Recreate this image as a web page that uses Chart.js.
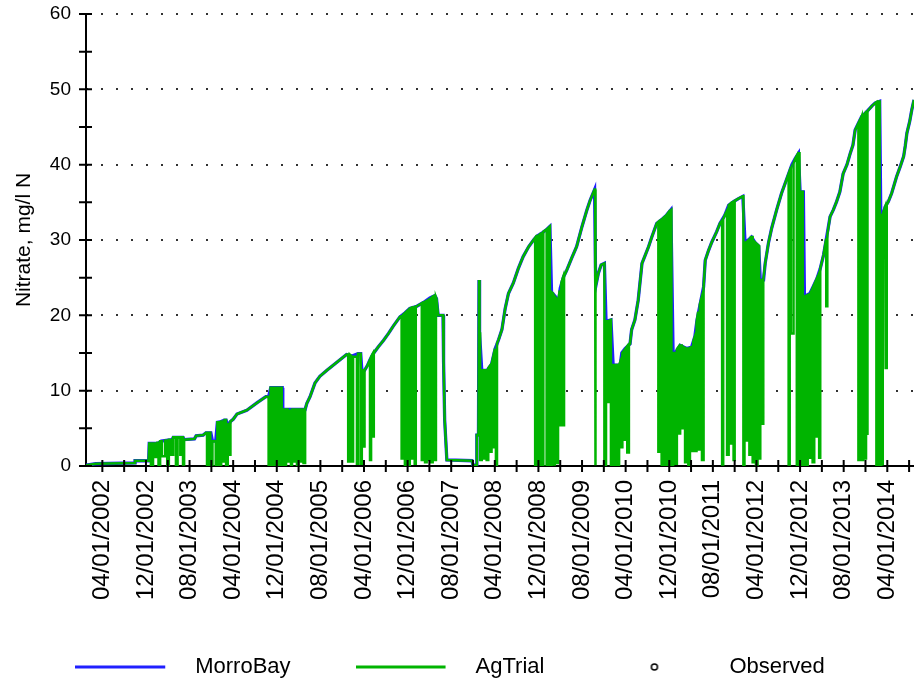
<!DOCTYPE html>
<html>
<head>
<meta charset="utf-8">
<title>Nitrate</title>
<script src="https://cdn.jsdelivr.net/npm/chart.js@4.4.0/dist/chart.umd.min.js"></script>
<style>
  html, body { margin: 0; padding: 0; background: #fff; }
  #wrap { width: 914px; height: 682px; }
</style>
</head>
<body>
<div id="wrap"><canvas id="chartNO3"></canvas></div>
<script>
// x = months since 01/01/2002, y = nitrate (mg/l N)
const morroBay = [
  [0,0.1],[1.8,0.3],[9.0,0.4],[9.0,0.7],[11.5,0.7],[11.6,3.0],[13.2,3.0],[13.8,3.3],[14.7,3.4],[15.8,3.5],
  [16.0,3.8],[17.8,3.8],[18.0,3.5],[19.9,3.6],[20.2,4.0],[21.5,4.1],[22.0,4.4],[22.9,4.4],[23.2,3.3],[23.8,3.3],
  [24.1,5.8],[24.8,5.9],[25.4,6.1],[25.7,6.1],[26.0,5.5],[26.3,5.6],[26.5,5.9],[27.0,6.2],[27.7,6.9],[29.5,7.4],
  [31.4,8.4],[33.0,9.2],[33.5,9.2],[33.9,10.4],[36.0,10.4],[36.1,7.5],[37.3,7.5],[37.4,6.2],[37.7,6.2],[37.8,7.5],
  [40.2,7.5],[40.5,8.3],[41.1,9.2],[42.0,11.0],[42.9,11.9],[44.2,12.7],[45.4,13.4],[46.6,14.1],[47.8,14.8],[48.8,14.6],
  [49.9,14.9],[50.4,14.9],[50.6,12.7],[51.1,12.7],[51.6,13.3],[52.1,14.1],[52.7,14.9],[53.6,15.8],[54.6,16.7],[55.5,17.6],
  [56.4,18.6],[57.6,19.8],[58.5,20.3],[59.4,20.9],[60.7,21.2],[61.9,21.7],[63.1,22.3],[64.0,22.6],[64.3,22.2],[64.6,20.0],
  [65.5,20.0],[65.6,13.8],[65.8,6.1],[66.2,0.8],[70.8,0.7],[71.0,0.1],[71.6,0.1],[71.7,4.1],[72.0,4.1],[72.1,24.7],
  [72.2,17.6],[72.6,12.7],[73.6,12.7],[74.4,13.5],[75.0,15.4],[75.7,16.8],[76.3,18.1],[76.9,20.9],[77.5,22.9],[78.4,24.3],
  [79.3,26.2],[80.2,27.8],[81.2,29.1],[82.1,30.0],[82.7,30.5],[83.6,30.9],[84.5,31.4],[85.1,31.8],[85.4,23.1],[86.1,22.5],
  [86.7,21.8],[87.0,23.6],[87.6,25.1],[88.2,26.0],[89.1,27.6],[90.0,29.1],[91.0,31.8],[91.9,34.0],[92.5,35.3],[93.3,36.7],
  [93.5,23.8],[94.0,25.6],[94.5,26.7],[95.1,26.9],[95.4,19.2],[96.3,19.4],[96.7,13.4],[98.0,13.4],[98.3,15.0],[98.9,15.6],
  [99.8,16.2],[100.1,18.1],[100.7,19.4],[101.3,22.0],[102.0,26.9],[102.6,28.0],[103.2,29.1],[103.8,30.4],[104.7,32.2],[105.6,32.7],
  [106.5,33.3],[107.3,34.0],[107.7,15.0],[108.1,15.0],[109.0,16.0],[110.2,15.6],[111.1,15.8],[111.7,17.2],[112.1,19.4],[112.7,21.6],
  [113.3,23.8],[113.6,27.3],[114.2,28.6],[114.8,29.7],[115.7,31.1],[116.3,32.2],[117.2,33.3],[117.9,34.6],[118.8,35.1],[119.7,35.5],
  [120.5,35.8],[120.9,29.6],[122.1,30.4],[122.8,29.6],[123.4,29.2],[123.7,24.7],[124.3,24.7],[124.6,26.9],[125.2,29.6],[125.8,31.6],
  [126.7,34.0],[127.6,36.2],[128.6,38.2],[129.5,40.0],[130.1,40.8],[130.7,41.5],[131.0,36.4],[131.6,36.4],[131.8,22.5],[132.8,22.9],
  [133.4,23.8],[134.1,24.9],[134.7,26.2],[135.3,28.0],[135.9,30.5],[136.5,33.1],[137.1,34.0],[137.7,35.1],[138.3,36.4],[138.9,38.8],
  [139.6,40.0],[140.2,41.5],[140.7,42.6],[141.1,44.6],[141.7,45.5],[142.3,46.4],[143.2,47.0],[144.2,47.8],[144.8,48.2],[145.6,48.4],
  [145.8,33.3],[146.2,33.3],[146.6,34.4],[147.2,35.1],[147.8,36.2],[148.7,38.4],[149.4,39.8],[150.0,41.1],[150.3,42.5],[150.6,44.2],
  [151.1,45.7],[151.5,47.3],[151.9,48.6]
];

const agTrial = [
  [0,0.1],[1.8,0.3],[9.0,0.4],[9.0,0.7],[11.5,0.7],[11.6,3.0],
  [11.9,3.0],[11.9,0.1],[12.3,0.1],[12.3,3.0],[12.7,3.0],[12.7,1.2],[13.1,1.2],[13.1,3.1],[13.3,3.1],[13.3,0.1],
  [13.6,0.1],[13.6,3.3],[13.9,3.3],[13.9,1.3],[14.5,1.3],[14.5,3.4],[14.9,3.4],[14.9,0.1],[15.2,0.1],[15.2,3.5],
  [15.6,3.5],[15.6,1.5],[16.0,1.5],[16.0,3.8],[16.5,3.8],[16.5,0.1],[16.8,0.1],[16.8,3.8],[17.3,3.8],[17.3,1.5],
  [17.6,1.5],[17.6,3.8],[17.8,3.8],[17.8,0.2],[18.0,0.2],[18.0,3.5],[19.9,3.6],[20.2,4.0],[21.5,4.1],[22.0,4.4],
  [22.2,4.4],[22.2,0.1],[22.5,0.1],[22.5,4.4],[22.8,4.4],[22.8,0.1],[23.2,0.1],[23.2,3.3],[23.8,3.3],[23.8,0.1],
  [24.1,0.1],[24.1,5.8],[24.4,5.8],[24.4,0.1],[24.8,0.1],[24.8,5.9],[25.1,5.9],[25.1,0.6],[25.4,0.6],[25.4,6.1],
  [25.7,6.1],[25.7,0.1],[26.0,0.1],[26.0,5.5],[26.3,5.6],[26.3,1.5],[26.5,1.5],[26.5,5.9],[27.0,6.2],[27.7,6.9],
  [29.5,7.4],[31.4,8.4],[33.0,9.2],[33.5,9.2],
  [33.5,0.1],[33.8,0.1],[33.8,9.2],[33.9,10.4],[34.1,10.4],[34.1,0.1],[34.4,0.1],[34.4,10.4],[34.7,10.4],[34.7,0.1],
  [35.0,0.1],[35.0,10.4],[35.3,10.4],[35.3,0.1],[35.6,0.1],[35.6,10.4],[35.9,10.4],[35.9,0.1],[36.1,0.1],[36.1,7.5],
  [36.4,7.5],[36.4,0.1],[36.7,0.1],[36.7,7.5],[37.0,7.5],[37.0,0.6],[37.3,0.6],[37.3,7.5],[37.4,6.2],[37.6,6.2],
  [37.6,0.1],[37.8,0.1],[37.8,7.5],[38.1,7.5],[38.1,0.6],[38.4,0.6],[38.4,7.5],[38.7,7.5],[38.7,0.1],[39.0,0.1],
  [39.0,7.5],[39.3,7.5],[39.3,0.6],[39.6,0.6],[39.6,7.5],[39.9,7.5],[39.9,0.4],[40.2,0.4],[40.2,7.5],
  [40.5,8.3],[41.1,9.2],[42.0,11.0],[42.9,11.9],[44.2,12.7],[45.4,13.4],[46.6,14.1],[47.8,14.8],
  [48.1,14.8],[48.1,0.6],[48.4,0.6],[48.4,14.8],[48.7,14.6],[48.7,0.6],[49.0,0.6],[49.0,14.5],[49.7,14.5],[49.7,0.3],
  [49.9,0.3],[49.9,14.9],[50.4,14.9],[50.4,0.3],[50.6,0.3],[50.6,12.7],[50.9,12.7],[50.9,2.6],[51.1,2.6],[51.1,12.7],
  [51.6,13.3],[52.1,14.1],[52.1,0.8],[52.3,0.8],[52.3,14.5],[52.6,14.9],[52.6,3.9],[52.8,3.9],[52.8,15.0],[53.6,15.8],
  [54.6,16.7],[55.5,17.6],[56.4,18.6],[57.6,19.8],
  [57.9,19.9],[57.9,1.0],[58.2,1.0],[58.2,20.1],[58.5,20.3],[58.5,0.1],[58.8,0.1],[58.8,20.5],[59.1,20.7],[59.1,0.1],
  [59.4,0.1],[59.4,20.9],[59.7,21.0],[59.7,1.0],[60.0,1.0],[60.0,21.0],[60.3,21.1],[60.3,0.3],[60.5,0.3],[60.5,21.1],
  [60.7,21.2],[61.6,21.6],
  [61.6,0.8],[61.9,0.8],[61.9,21.7],[62.2,21.8],[62.2,0.5],[62.5,0.5],[62.5,21.9],[62.7,22.0],[62.7,0.8],[63.0,0.8],
  [63.0,22.1],[63.3,22.3],[63.3,0.5],[63.6,0.5],[63.6,22.5],[63.9,22.6],[63.9,0.8],[64.2,0.8],[64.2,22.4],[64.3,22.2],
  [64.6,20.0],[65.5,20.0],[65.6,13.8],[65.8,6.1],[66.2,0.8],[70.8,0.7],[71.0,0.1],[71.6,0.1],[71.7,4.1],[72.0,4.1],
  [72.1,24.7],[72.2,17.6],
  [72.3,17.6],[72.3,0.8],[72.6,0.8],[72.6,12.7],[72.9,12.7],[72.9,1.0],[73.2,1.0],[73.2,12.7],[73.5,12.7],[73.5,0.8],
  [73.8,0.8],[73.8,13.0],[74.1,13.3],[74.1,1.9],[74.4,1.9],[74.4,13.5],[74.7,14.5],[74.7,2.5],[75.0,2.5],[75.0,15.4],
  [75.2,15.4],[75.2,0.1],[75.4,0.1],[75.4,16.3],[75.7,16.8],[76.3,18.1],[76.9,20.9],[77.5,22.9],[78.4,24.3],[79.3,26.2],
  [80.2,27.8],[81.2,29.1],[82.1,30.0],
  [82.4,30.3],[82.4,0.1],[82.7,0.1],[82.7,30.5],[83.0,30.6],[83.0,0.1],[83.3,0.1],[83.3,30.8],[83.6,30.9],[83.6,0.1],
  [83.9,0.1],[83.9,31.1],[84.5,31.4],[84.5,0.1],[84.8,0.1],[84.8,31.6],[85.1,31.8],[85.1,0.1],[85.4,0.1],[85.4,23.1],
  [85.7,22.9],[85.7,0.2],[86.0,0.2],[86.0,22.5],[86.3,22.2],[86.3,0.4],[86.6,0.4],[86.6,21.8],[86.9,23.3],[86.9,5.4],
  [87.2,5.4],[87.2,24.3],[87.5,25.0],[87.5,5.4],[87.7,5.4],[87.7,25.2],[88.2,26.0],[89.1,27.6],[90.0,29.1],[91.0,31.8],
  [91.9,34.0],[92.5,35.3],[93.3,36.7],
  [93.4,36.7],[93.4,0.1],[93.5,0.1],[93.5,23.8],[94.0,25.6],[94.5,26.7],[95.1,26.9],
  [95.1,0.1],[95.4,0.1],[95.4,19.2],[95.7,19.2],[95.7,8.5],[96.0,8.5],[96.0,19.3],[96.3,19.4],[96.3,0.1],[96.6,0.1],
  [96.6,13.4],[96.9,13.4],[96.9,0.1],[97.2,0.1],[97.2,13.4],[97.5,13.4],[97.5,0.1],[97.8,0.1],[97.8,13.4],[98.1,14.0],
  [98.1,2.5],[98.4,2.5],[98.4,15.0],[98.7,15.3],[98.7,3.5],[99.0,3.5],[99.0,15.6],[99.3,15.9],[99.3,1.8],[99.6,1.8],
  [99.6,16.1],[99.8,16.2],[100.1,18.1],[100.7,19.4],[101.3,22.0],[102.0,26.9],[102.6,28.0],[103.2,29.1],[103.8,30.4],[104.7,32.2],
  [105.0,32.4],[105.0,1.9],[105.3,1.9],[105.3,32.5],[105.6,32.7],[105.6,0.1],[105.9,0.1],[105.9,32.9],[106.2,33.1],[106.2,0.1],
  [106.5,0.1],[106.5,33.3],[106.8,33.6],[106.8,0.1],[107.1,0.1],[107.1,33.8],[107.4,34.0],[107.4,0.1],[107.7,0.1],[107.7,15.0],
  [108.1,15.0],[108.1,0.3],[108.4,0.3],[108.4,15.5],[108.7,15.8],[108.7,4.3],[109.0,4.3],[109.0,16.0],[109.3,16.0],[109.3,5.0],
  [109.6,5.0],[109.6,15.8],[109.9,15.7],[109.9,0.5],[110.2,0.5],[110.2,15.6],[110.5,15.6],[110.5,0.1],[110.8,0.1],[110.8,15.7],
  [111.1,15.8],[111.1,2.0],[111.4,2.0],[111.4,16.5],[111.7,17.2],[111.7,2.0],[112.0,2.0],[112.0,19.0],[112.3,20.5],[112.3,2.2],
  [112.6,2.2],[112.6,21.4],[113.0,22.5],[113.0,0.8],[113.3,0.8],[113.3,23.8],[113.6,27.3],
  [114.2,28.6],[114.8,29.7],[115.7,31.1],[116.3,32.2],[116.7,32.6],[116.7,0.2],[116.9,0.2],[116.9,32.8],[117.2,33.3],[117.6,33.9],
  [117.6,1.5],[117.9,1.5],[117.9,34.6],[118.2,34.8],[118.2,3.0],[118.5,3.0],[118.5,35.0],[118.8,35.1],[118.8,0.8],[119.0,0.8],
  [119.0,35.2],[119.7,35.5],[120.5,35.8],
  [120.6,35.8],[120.6,0.1],[120.8,0.1],[120.8,29.6],[121.1,29.7],[121.1,3.4],[121.4,3.4],[121.4,29.9],[121.7,30.1],[121.7,1.5],
  [122.0,1.5],[122.0,30.4],[122.3,30.4],[122.3,0.5],[122.6,0.5],[122.6,29.8],[122.9,29.6],[122.9,0.2],[123.2,0.2],[123.2,29.4],
  [123.5,29.2],[123.5,1.0],[123.7,1.0],[123.7,24.7],[124.0,24.7],[124.0,5.6],[124.2,5.6],[124.2,24.7],[124.3,24.7],[124.6,26.9],
  [125.2,29.6],[125.8,31.6],[126.7,34.0],[127.6,36.2],[128.6,38.2],
  [128.9,38.8],[128.9,0.2],[129.1,0.2],[129.1,39.2],[129.3,39.5],[129.3,17.6],[129.8,17.6],[129.8,40.2],[130.1,40.8],[130.4,41.2],
  [130.4,0.1],[130.7,0.1],[130.7,41.5],[130.9,41.5],[130.9,0.1],[131.2,0.1],[131.2,36.4],[131.5,36.4],[131.5,0.1],[131.8,0.1],
  [131.8,22.5],[132.1,22.6],[132.1,0.1],[132.4,0.1],[132.4,22.7],[132.7,22.8],[132.7,1.1],[133.0,1.1],[133.0,23.1],[133.3,23.6],
  [133.3,0.5],[133.6,0.5],[133.6,24.1],[133.9,24.6],[133.9,3.9],[134.2,3.9],[134.2,25.0],[134.5,25.6],[134.5,1.1],[134.7,1.1],
  [134.7,26.2],[135.3,28.0],[135.8,30.2],[135.8,21.2],[136.0,21.2],[136.0,30.7],[136.5,33.1],[137.1,34.0],[137.7,35.1],[138.3,36.4],
  [138.9,38.8],[139.6,40.0],[140.2,41.5],[140.7,42.6],[141.1,44.6],
  [141.7,45.5],[141.7,0.8],[142.0,0.8],[142.0,45.8],[142.3,46.4],[142.3,0.8],[142.6,0.8],[142.6,46.6],[142.9,46.8],[142.9,1.0],
  [143.1,1.0],[143.1,47.0],[143.3,47.0],[143.3,4.1],[143.4,4.1],[143.4,47.1],[144.2,47.8],[144.8,48.2],[145.0,48.3],[145.0,0.1],
  [145.3,0.1],[145.3,48.4],[145.6,48.4],[145.6,0.1],[145.9,0.1],[145.9,33.3],[146.1,33.3],[146.1,0.1],[146.2,0.1],[146.2,33.5],
  [146.6,34.4],[146.7,34.5],[146.7,13.0],[146.9,13.0],[146.9,34.7],[147.2,35.1],[147.8,36.2],[148.7,38.4],[149.4,39.8],[150.0,41.1],
  [150.3,42.5],[150.6,44.2],[151.1,45.7],[151.5,47.3],[151.9,48.6]
];

const observed = [];

const xLabels = [
  '04/01/2002', '12/01/2002', '08/01/2003', '04/01/2004', '12/01/2004', '08/01/2005',
  '04/01/2006', '12/01/2006', '08/01/2007', '04/01/2008', '12/01/2008', '08/01/2009',
  '04/01/2010', '12/01/2010', '08/01/2011', '04/01/2012', '12/01/2012', '08/01/2013', '04/01/2014'
];

const BLUE = '#2020ff';
const GREEN = '#00b400';
const X_MAX = 151.9;

// label dates -> month index
const labelMonths = xLabels.map(s => {
  const [mm, dd, yyyy] = s.split('/').map(Number);
  return (yyyy - 2002) * 12 + (mm - 1);
});
// small tick marks every 4 months, labels every 8
const minorMonths = [];
for (let m = labelMonths[0]; m <= X_MAX; m += 4) minorMonths.push(m);

function toPoints(arr) {
  return arr.map(p => ({x: p[0], y: p[1]}));
}

// legend symbol: 90px line (or a small circle in the middle of it),
// the image is wider than the legend box so the symbol sits a bit to the left
function legendSymbol(kind, color) {
  const c = document.createElement('canvas');
  c.width = 123;
  c.height = 12;
  const g = c.getContext('2d');
  if (kind === 'line') {
    g.strokeStyle = color;
    g.lineWidth = 3;
    g.beginPath();
    g.moveTo(0, 6);
    g.lineTo(90, 6);
    g.stroke();
  } else {
    g.strokeStyle = '#000';
    g.fillStyle = '#fff';
    g.lineWidth = 1.5;
    g.beginPath();
    g.arc(45, 6, 3, 0, Math.PI * 2);
    g.fill();
    g.stroke();
  }
  return c;
}

// axis ticks that cross the axis line
const crossTicks = {
  id: 'crossTicks',
  afterDraw(chart) {
    const {ctx, scales: {x, y}} = chart;
    ctx.save();
    ctx.strokeStyle = '#000';
    ctx.lineWidth = 2;
    ctx.beginPath();
    for (const m of minorMonths) {
      const px = x.getPixelForValue(m);
      ctx.moveTo(px, y.bottom - 6);
      ctx.lineTo(px, y.bottom + 6);
    }
    for (let v = 0; v <= 60; v += 5) {
      const py = y.getPixelForValue(v);
      ctx.moveTo(x.left - 7, py);
      ctx.lineTo(x.left + 6, py);
    }
    ctx.stroke();
    ctx.restore();
  }
};

// the long date labels run past the x box into the legend band; don't crop them
const longLabels = {
  id: 'longLabels',
  afterLayout(chart) {
    chart.scales.x.bottom = chart.height;
  }
};

Chart.defaults.font.family = "'Liberation Sans', Arial, sans-serif";
Chart.defaults.color = '#000';

const config = {
  type: 'line',
  data: {
    datasets: [
      {
        label: 'MorroBay',
        data: toPoints(morroBay),
        borderColor: BLUE,
        borderWidth: 3.3,
        pointRadius: 0,
        tension: 0,
        order: 2
      },
      {
        label: 'AgTrial',
        data: toPoints(agTrial),
        borderColor: GREEN,
        borderWidth: 2.5,
        pointRadius: 0,
        tension: 0,
        order: 1
      },
      {
        label: 'Observed',
        data: toPoints(observed),
        showLine: false,
        pointStyle: 'circle',
        pointRadius: 3,
        borderColor: '#000',
        backgroundColor: '#fff',
        order: 0
      }
    ]
  },
  options: {
    responsive: true,
    maintainAspectRatio: false,
    animation: false,
    devicePixelRatio: 1,
    events: [],
    layout: { padding: { top: 14, right: 0, bottom: -6, left: 0 } },
    scales: {
      x: {
        type: 'linear',
        min: 0,
        max: X_MAX,
        z: 1,
        afterBuildTicks: s => { s.ticks = labelMonths.map(v => ({value: v})); },
        afterFit: s => { s.height = 111; s.paddingLeft = 0; s.paddingRight = 0; },
        ticks: {
          autoSkip: false,
          minRotation: 90,
          maxRotation: 90,
          padding: 14,
          font: { size: 24 },
          callback: (v, i) => xLabels[i]
        },
        grid: { drawOnChartArea: false, drawTicks: false },
        border: { color: '#000', width: 2 }
      },
      y: {
        min: 0,
        max: 60,
        z: 1,
        afterFit: s => { s.width = 86; s.paddingTop = 0; s.paddingBottom = 0; },
        ticks: {
          stepSize: 5,
          padding: 15,
          font: { size: 19 },
          callback: v => (v % 10 === 0 ? v : '')
        },
        grid: {
          drawTicks: false,
          lineWidth: 2,
          color: c => (c.tick && c.tick.value > 0 && c.tick.value % 10 === 0) ? '#333' : 'rgba(0,0,0,0)'
        },
        border: { color: '#000', width: 2, dash: [2, 13], dashOffset: 1 },
        title: {
          display: true,
          text: 'Nitrate, mg/l N',
          font: { size: 21 },
          padding: { top: 12, bottom: 0 }
        }
      }
    },
    plugins: {
      tooltip: { enabled: false },
      legend: {
        position: 'bottom',
        labels: {
          usePointStyle: true,
          pointStyleWidth: 95,
          padding: 79,
          font: { size: 22 },
          generateLabels: () => [
            { text: 'MorroBay', pointStyle: legendSymbol('line', BLUE), fillStyle: BLUE, strokeStyle: BLUE, lineWidth: 0, hidden: false, datasetIndex: 0 },
            { text: 'AgTrial', pointStyle: legendSymbol('line', GREEN), fillStyle: GREEN, strokeStyle: GREEN, lineWidth: 0, hidden: false, datasetIndex: 1 },
            { text: 'Observed', pointStyle: legendSymbol('circle'), fillStyle: '#fff', strokeStyle: '#000', lineWidth: 0, hidden: false, datasetIndex: 2 }
          ]
        }
      }
    }
  },
  plugins: [crossTicks, longLabels]
};

const nitrateChart = new Chart(document.getElementById('chartNO3'), config);
</script>
</body>
</html>
